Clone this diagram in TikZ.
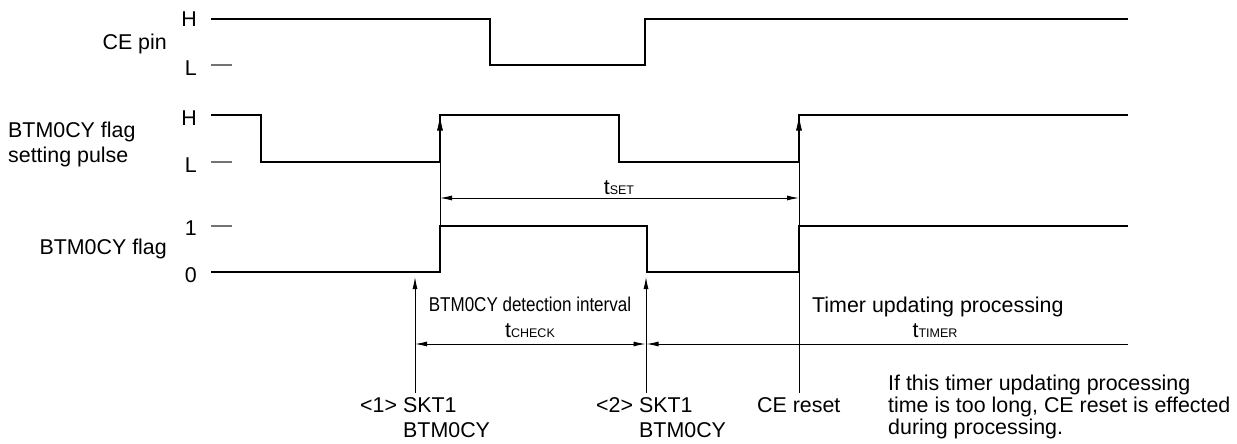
\documentclass[tikz,border=0pt]{standalone}
\usepackage{fontspec}
\setmainfont{Liberation Sans}
\newfontfamily\narrowfont[FakeStretch=0.85]{Liberation Sans}
\usetikzlibrary{arrows.meta}
\newcommand{\subsz}{\fontsize{12.5}{14}\selectfont}
\begin{document}
\begin{tikzpicture}[x=1pt,y=-1pt,
  wave/.style={line width=2.6pt,line join=miter,line cap=butt},
  thinl/.style={line width=0.9pt},
  tickl/.style={line width=1.2pt,black!55},
  lbl/.style={inner sep=0pt,font=\fontsize{21.4}{25}\selectfont},
  nlbl/.style={inner sep=0pt,font=\narrowfont\fontsize{20}{24}\selectfont},
  dimarrow/.style={thinl,{Latex[length=12pt,width=5pt]}-{Latex[length=12pt,width=5pt]}},
  leftarrow/.style={thinl,{Latex[length=12pt,width=5pt]}-},
  uparrow/.style={thinl,-{Latex[length=12pt,width=5pt]}},
  edgearrow/.style={thinl,-{Latex[length=15pt,width=6pt]}}]
\useasboundingbox (0,0) rectangle (1237,444);

% ---- left labels
\node[lbl,anchor=base east] (cepin) at (167,50) {CE pin};
\node[lbl,anchor=base east] (ceH) at (197,27) {H};
\node[lbl,anchor=base east] (ceL) at (197,75) {L};
\node[lbl,anchor=base west] (pulseA) at (8,137) {BTM0CY flag};
\node[lbl,anchor=base west] (pulseB) at (8,162) {setting pulse};
\node[lbl,anchor=base east] (puH) at (197,125) {H};
\node[lbl,anchor=base east] (puL) at (197,172) {L};
\node[lbl,anchor=base east] (flag) at (167,254) {BTM0CY flag};
\node[lbl,anchor=base east] (fl1) at (197,235) {1};
\node[lbl,anchor=base east] (fl0) at (197,282) {0};

% ---- level ticks
\draw[tickl] (211,65) -- (232,65);
\draw[tickl] (211,162) -- (232,162);
\draw[tickl] (211,226) -- (232,226);

% ---- waveforms
\draw[wave] (211,19) -- (490,19) -- (490,65) -- (645,65) -- (645,19) -- (1128,19);
\draw[wave] (211,115) -- (261,115) -- (261,162) -- (440,162) -- (440,115)
  -- (619,115) -- (619,162) -- (799,162) -- (799,115) -- (1128,115);
\draw[wave] (211,272) -- (440,272) -- (440,226) -- (647,226) -- (647,272)
  -- (799,272) -- (799,226) -- (1128,226);

% ---- key coordinates
\coordinate (r1top) at (440,115.5);
\coordinate (r1arr) at (440,150);
\coordinate (r1low) at (440,162);
\coordinate (r1flag) at (440,226);
\coordinate (r2top) at (799,115.5);
\coordinate (r2arr) at (799,150);
\coordinate (r2low) at (799,162);
\coordinate (r2bot) at (799,393);
\coordinate (s1bot) at (415,393);
\coordinate (s1tip) at (415,277);
\coordinate (s2bot) at (646,393);
\coordinate (s2tip) at (646,277);
\coordinate (setL) at (440,198);
\coordinate (setR) at (799,198);
\coordinate (chkL) at (415,344);
\coordinate (chkR) at (645.5,344);
\coordinate (tmrL) at (646.5,344);
\coordinate (tmrR) at (1128,344);

% ---- edge arrows and guide lines
\draw[edgearrow] (r1arr) -- (r1top);
\draw[edgearrow] (r2arr) -- (r2top);
\draw[thinl] (r1low) -- (r1flag);
\draw[thinl] (r2low) -- (r2bot);
\draw[uparrow] (s1bot) -- (s1tip);
\draw[uparrow] (s2bot) -- (s2tip);

% ---- dimension lines
\draw[dimarrow] (setL) -- (setR);
\draw[dimarrow] (chkL) -- (chkR);
\draw[leftarrow] (tmrL) -- (tmrR);

% ---- dimension labels
\node[lbl,anchor=base] (tset) at (619,194) {t{\subsz SET}};
\node[nlbl,anchor=base] (detint) at (530,311) {BTM0CY detection interval};
\node[lbl,anchor=base] (tchk) at (530,337) {t{\subsz CHECK}};
\node[lbl,anchor=base west] (tup) at (812,312) {Timer updating processing};
\node[lbl,anchor=base] (ttmr) at (935,337) {t{\subsz TIMER}};

% ---- bottom labels
\node[lbl,anchor=base west] (skt1a) at (360,412) {<1> SKT1};
\node[lbl,anchor=base west] (skt1b) at (403,437) {BTM0CY};
\node[lbl,anchor=base west] (skt2a) at (596,412) {<2> SKT1};
\node[lbl,anchor=base west] (skt2b) at (639,437) {BTM0CY};
\node[lbl,anchor=base west] (cereset) at (757,412) {CE reset};

% ---- note
\node[lbl,anchor=base west] (noteA) at (888,390) {If this timer updating processing};
\node[lbl,anchor=base west] (noteB) at (888,412) {time is too long, CE reset is effected};
\node[lbl,anchor=base west] (noteC) at (888,434) {during processing.};
\end{tikzpicture}
\end{document}
